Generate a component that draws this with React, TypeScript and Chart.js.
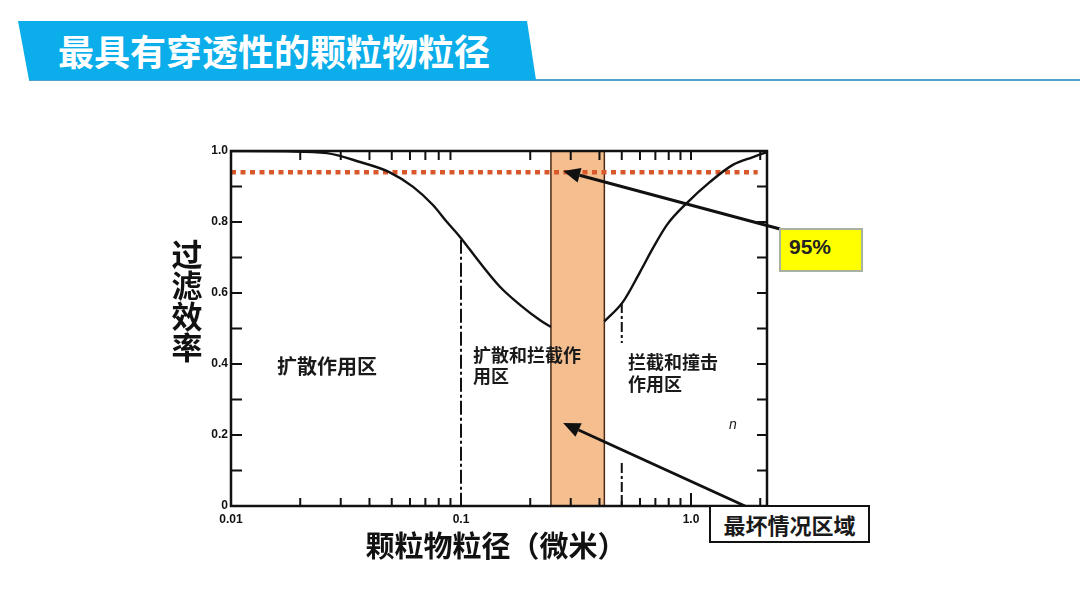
import React, { useEffect, useRef } from "react";
import { Chart, registerables } from "chart.js";

Chart.register(...registerables);

// ---- data ----
const leftCurveX = [0.01, 0.0175, 0.0261, 0.0364, 0.049, 0.0619, 0.0755, 0.0869, 0.099, 0.121, 0.148, 0.181, 0.22, 0.246];
const leftCurveY = [1.0, 0.999, 0.994, 0.969, 0.94, 0.899, 0.848, 0.8, 0.758, 0.685, 0.617, 0.566, 0.524, 0.504];
const rightCurveX = [0.42, 0.506, 0.6, 0.684, 0.786, 0.961, 1.21, 1.52, 1.86, 2.14];
const rightCurveY = [0.52, 0.575, 0.659, 0.727, 0.792, 0.854, 0.913, 0.961, 0.983, 0.997];
const worstBand = [0.246, 0.42];
const thresholdY = 0.94;
const thresholdX = [0.01, 1.95];
const diffusionBoundaryX = 0.1;
const diffusionBoundaryY = [0.75, 0];
const impactionBoundaryX = 0.5;
const impactionBoundaryY: (number | null)[] = [0.572, 0.459, null, 0.121, 0];
const xTickValues = [0.01, 0.1, 1];
const xTickLabels = ["0.01", "0.1", "1.0"];
const yTickValues = [0, 0.2, 0.4, 0.6, 0.8, 1.0];
const yTickLabels = ["0", "0.2", "0.4", "0.6", "0.8", "1.0"];
const xFrameTicks = [0.02, 0.03, 0.04, 0.05, 0.06, 0.07, 0.08, 0.09, 0.2, 0.3, 0.4, 0.5, 0.6, 0.7, 0.8, 0.9, 1, 2];
const yFrameTicks = [0.1, 0.2, 0.3, 0.4, 0.5, 0.6, 0.7, 0.8, 0.9];
const arrowTips = [
  [0.278, 0.944],
  [0.278, 0.234],
];

const X_MIN = 0.01;
const X_MAX = 2.14;

// layout of the callout boxes (pixels)
const box95 = { left: 779, top: 228, width: 84, height: 44 };
const boxWorst = { left: 709, top: 505, width: 161, height: 38 };
const arrowTails = [
  [box95.left + 1, box95.top + 1],
  [745, boxWorst.top + 1],
];

const CJK = "'Noto Sans CJK SC', 'Noto Sans', sans-serif";

function drawArrow(ctx: CanvasRenderingContext2D, x1: number, y1: number, x2: number, y2: number) {
  const ang = Math.atan2(y2 - y1, x2 - x1);
  const head = 17;
  const half = 7.5;
  const bx = x2 - head * Math.cos(ang);
  const by = y2 - head * Math.sin(ang);
  ctx.save();
  ctx.strokeStyle = "#111";
  ctx.fillStyle = "#111";
  ctx.lineWidth = 3;
  ctx.lineCap = "butt";
  ctx.beginPath();
  ctx.moveTo(x1, y1);
  ctx.lineTo(bx, by);
  ctx.stroke();
  ctx.beginPath();
  ctx.moveTo(x2, y2);
  ctx.lineTo(bx + half * Math.sin(ang), by - half * Math.cos(ang));
  ctx.lineTo(bx - half * Math.sin(ang), by + half * Math.cos(ang));
  ctx.closePath();
  ctx.fill();
  ctx.restore();
}

const bandPlugin = {
  id: "band",
  beforeDatasetsDraw(chart: any) {
    const { ctx, chartArea, scales } = chart;
    const x1 = scales.x.getPixelForValue(worstBand[0]);
    const x2 = scales.x.getPixelForValue(worstBand[1]);
    ctx.save();
    ctx.fillStyle = "#F5BE8F";
    ctx.fillRect(x1, chartArea.top, x2 - x1, chartArea.bottom - chartArea.top);
    ctx.strokeStyle = "#4a2a16";
    ctx.lineWidth = 1.5;
    ctx.beginPath();
    ctx.moveTo(x1, chartArea.top);
    ctx.lineTo(x1, chartArea.bottom);
    ctx.moveTo(x2, chartArea.top);
    ctx.lineTo(x2, chartArea.bottom);
    ctx.stroke();
    ctx.restore();
  },
};

const framePlugin = {
  id: "frame",
  afterDatasetsDraw(chart: any) {
    const { ctx, chartArea, scales } = chart;
    const { left, right, top, bottom } = chartArea;
    ctx.save();
    ctx.strokeStyle = "#111";
    ctx.lineWidth = 2.5;
    ctx.strokeRect(left, top, right - left, bottom - top);
    ctx.lineWidth = 2;
    ctx.beginPath();
    for (const v of yFrameTicks) {
      const py = scales.y.getPixelForValue(v);
      ctx.moveTo(left, py);
      ctx.lineTo(left + 11, py);
      ctx.moveTo(right, py);
      ctx.lineTo(right - 10, py);
    }
    for (const v of xFrameTicks) {
      const px = scales.x.getPixelForValue(v);
      ctx.moveTo(px, top);
      ctx.lineTo(px, top + 9);
      const len = v === 1 ? 13 : 8;
      ctx.moveTo(px, bottom);
      ctx.lineTo(px, bottom - len);
    }
    ctx.stroke();
    ctx.restore();
    arrowTips.forEach((tip, i) => {
      const tx = scales.x.getPixelForValue(tip[0]);
      const ty = scales.y.getPixelForValue(tip[1]);
      drawArrow(ctx, arrowTails[i][0], arrowTails[i][1], tx, ty);
    });
  },
};

function pts(xs: number[], ys: (number | null)[]) {
  return xs.map((x, i) => ({ x, y: ys[i] }));
}

function ChartCanvas() {
  const ref = useRef<HTMLCanvasElement | null>(null);
  useEffect(() => {
    if (!ref.current) return;
    Chart.defaults.font.family = "'Liberation Sans', Arial, sans-serif";
    const chart = new Chart(ref.current, {
      type: "line",
      data: {
        datasets: [
          {
            data: pts(leftCurveX, leftCurveY),
            borderColor: "#111",
            borderWidth: 2.4,
            pointRadius: 0,
            cubicInterpolationMode: "monotone",
            fill: false,
          },
          {
            data: pts(rightCurveX, rightCurveY),
            borderColor: "#111",
            borderWidth: 2.4,
            pointRadius: 0,
            cubicInterpolationMode: "monotone",
            fill: false,
          },
          {
            data: pts(diffusionBoundaryY.map(() => diffusionBoundaryX), diffusionBoundaryY),
            borderColor: "#111",
            borderWidth: 2,
            borderDash: [14, 3, 3, 3],
            pointRadius: 0,
            fill: false,
          },
          {
            data: pts(impactionBoundaryY.map(() => impactionBoundaryX), impactionBoundaryY),
            borderColor: "#111",
            borderWidth: 2,
            borderDash: [10, 3, 3, 3],
            pointRadius: 0,
            spanGaps: false,
            fill: false,
          },
          {
            data: pts(thresholdX, thresholdX.map(() => thresholdY)),
            borderColor: "#D9582B",
            borderWidth: 4.5,
            borderDash: [5, 4.5],
            borderCapStyle: "butt",
            pointRadius: 0,
            fill: false,
          },
        ],
      },
      options: {
        animation: false,
        responsive: false,
        events: [],
        layout: { padding: { left: 0, top: 151, right: 1080 - 767, bottom: 608 - 506 - 30 } },
        plugins: { legend: { display: false }, tooltip: { enabled: false } },
        scales: {
          x: {
            type: "logarithmic",
            min: X_MIN,
            max: X_MAX,
            grid: { display: false, drawTicks: false, tickLength: 0 },
            border: { display: false },
            afterBuildTicks: (s: any) => {
              s.ticks = xTickValues.map((v) => ({ value: v }));
            },
            afterFit: (s: any) => {
              s.height = 30;
            },
            ticks: {
              autoSkip: false,
              maxRotation: 0,
              minRotation: 0,
              padding: 6,
              color: "#111",
              font: { size: 12, weight: "bold" },
              callback: (_v: any, i: number) => xTickLabels[i],
            },
          },
          y: {
            type: "linear",
            min: 0,
            max: 1,
            grid: { display: false, drawTicks: false, tickLength: 0 },
            border: { display: false },
            afterBuildTicks: (s: any) => {
              s.ticks = yTickValues.map((v) => ({ value: v }));
            },
            afterFit: (s: any) => {
              s.width = 231;
            },
            ticks: {
              padding: 3,
              color: "#111",
              font: { size: 12, weight: "bold" },
              callback: (_v: any, i: number) => yTickLabels[i],
            },
          },
        },
      } as any,
      plugins: [bandPlugin, framePlugin],
    } as any);
    return () => chart.destroy();
  }, []);
  return <canvas ref={ref} width={1080} height={608} style={{ position: "absolute", left: 0, top: 0, width: 1080, height: 608 }} />;
}

const txt = (extra: React.CSSProperties): React.CSSProperties => ({
  position: "absolute",
  fontFamily: CJK,
  fontWeight: 700,
  color: "#1a1a1a",
  whiteSpace: "pre",
  ...extra,
});

export default function App() {
  const yTitle = "过滤效率".split("");
  return (
    <div style={{ position: "fixed", left: 0, top: 0, width: 1080, height: 608, background: "#fff", overflow: "hidden" }}>
      <svg width={1080} height={100} style={{ position: "absolute", left: 0, top: 0 }}>
        <line x1={29} y1={80} x2={1080} y2={80} stroke="#4FA3C8" strokeWidth={2} />
        <polygon points="18,21 527,21 536,80 29,80" fill="#0BAEEA" />
      </svg>
      <div style={txt({ left: 58, top: 32, fontSize: 36, lineHeight: "36px", color: "#fff" })}>最具有穿透性的颗粒物粒径</div>

      <ChartCanvas />

      <div style={{ position: "absolute", left: 171, top: 237, width: 32 }}>
        {yTitle.map((c) => (
          <div key={c} style={{ fontFamily: CJK, fontWeight: 700, fontSize: 31, lineHeight: "31px", color: "#111", textAlign: "center" }}>
            {c}
          </div>
        ))}
      </div>
      <div style={txt({ left: 296, top: 530, width: 400, textAlign: "center", fontSize: 29, lineHeight: "29px", color: "#111" })}>
        颗粒物粒径（微米）
      </div>

      <div style={txt({ left: 277, top: 356, fontSize: 20, lineHeight: "20px" })}>扩散作用区</div>
      <div style={txt({ left: 473, top: 344, fontSize: 18, lineHeight: "21px" })}>{"扩散和拦截作\n用区"}</div>
      <div style={txt({ left: 628, top: 350, fontSize: 18, lineHeight: "22px" })}>{"拦截和撞击\n作用区"}</div>
      <div style={txt({ left: 729, top: 416, fontSize: 14, lineHeight: "16px", fontStyle: "italic", fontWeight: 400, fontFamily: "'Liberation Sans', sans-serif" })}>n</div>

      <div
        style={{
          position: "absolute",
          left: box95.left,
          top: box95.top,
          width: box95.width,
          height: box95.height,
          boxSizing: "border-box",
          background: "#FFFF00",
          border: "2px solid #A8B2A0",
        }}
      >
        <div style={txt({ left: 8, top: 5, fontSize: 21, lineHeight: "24px", fontFamily: "'Liberation Sans', Arial, sans-serif", color: "#222" })}>95%</div>
      </div>
      <div
        style={{
          position: "absolute",
          left: boxWorst.left,
          top: boxWorst.top,
          width: boxWorst.width,
          height: boxWorst.height,
          boxSizing: "border-box",
          background: "#fff",
          border: "2.5px solid #111",
          display: "flex",
          alignItems: "center",
          justifyContent: "center",
        }}
      >
        <span style={{ fontFamily: CJK, fontWeight: 700, fontSize: 22, lineHeight: "24px", color: "#1a1a1a" }}>最坏情况区域</span>
      </div>
    </div>
  );
}
